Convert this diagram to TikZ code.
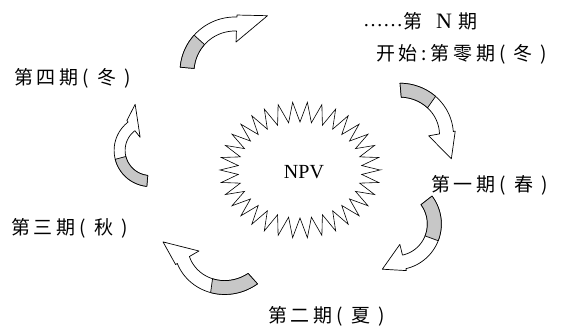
\documentclass[tikz,border=0pt]{standalone}
\usepackage{fontspec}
\setmainfont{Liberation Serif}
\newfontfamily\cjk[LetterSpace=20]{Noto Sans CJK SC}
\definecolor{tailgray}{gray}{0.78}
\tikzset{
  arrowline/.style={draw=black, line width=0.7pt, line join=round},
  lbl/.style={inner sep=0pt, anchor=west, font=\cjk\fontsize{19}{19}\selectfont},
  starline/.style={draw=black, line width=0.6pt, line join=miter},
  latin/.style={inner sep=0pt, font=\rmfamily\fontsize{20}{20}\selectfont},
}
\def\aW{7}\def\aHo{2}\def\aHi{18}
\newcommand\aRR{(\aRa+(\aRb-\aRa)*(\x-\aTa)/(\aTb-\aTa))}
\newcommand\cyclearrow[9]{%
  \def\aCX{#1}\def\aCY{#2}\def\aTa{#3}\def\aTg{#4}\def\aTb{#5}\def\aTt{#6}%
  \def\aRa{#7}\def\aRb{#8}\def\aRt{#9}%
  \draw[arrowline, fill=white]
    plot[domain=\aTa:\aTb, samples=40] ({\aCX+(\aRR+\aW)*cos(\x)}, {\aCY+(\aRR+\aW)*sin(\x)})
    -- ({\aCX+(\aRb+\aW+\aHo)*cos(\aTb)}, {\aCY+(\aRb+\aW+\aHo)*sin(\aTb)})
    -- ({\aCX+\aRt*cos(\aTt)}, {\aCY+\aRt*sin(\aTt)})
    -- ({\aCX+(\aRb-\aHi)*cos(\aTb)}, {\aCY+(\aRb-\aHi)*sin(\aTb)})
    -- plot[domain=\aTb:\aTa, samples=40] ({\aCX+(\aRR-\aW)*cos(\x)}, {\aCY+(\aRR-\aW)*sin(\x)})
    -- cycle;
  \draw[arrowline, fill=tailgray]
    plot[domain=\aTa:\aTg, samples=25] ({\aCX+(\aRR+\aW)*cos(\x)}, {\aCY+(\aRR+\aW)*sin(\x)})
    -- plot[domain=\aTg:\aTa, samples=25] ({\aCX+(\aRR-\aW)*cos(\x)}, {\aCY+(\aRR-\aW)*sin(\x)})
    -- cycle;
}
\begin{document}
\begin{tikzpicture}[x=1pt, y=-1pt]
  \useasboundingbox[fill=white] (0,0) rectangle (563,336);
  % starburst around NPV
  \draw[starline] plot[domain=0:68, samples=69]
    ({300+(71+9*cos(\x*180))*cos(\x*5.294118)}, {170+(58+10*cos(\x*180))*sin(\x*5.294118)}) -- cycle;
  \node[latin] (npv) at (304,172) {NPV};
  % cycle arrows
  \cyclearrow{405}{140}{265}{305}{350}{382}{50}{42}{50}
  \cyclearrow{395}{225}{322}{380}{436}{466}{40}{38}{46}
  \cyclearrow{218}{240}{48}{98}{150}{178}{52}{40}{55}
  \def\aW{5.5}\def\aHi{14}
  \cyclearrow{150}{150}{95}{165}{232}{252}{31}{30}{48}
  \def\aW{7}\def\aHi{18}
  \cyclearrow{235}{72}{185}{222}{272}{300}{48}{48}{65}
  % labels
  \node[lbl] (nth) at (363,21) {{\rmfamily\fontsize{20}{20}\selectfont\raisebox{2pt}{……}}第\hspace{14pt}{\rmfamily\fontsize{22}{22}\selectfont N}\hspace{6pt}期};
  \node[lbl] (start) at (376,54) {开始:第零期( 冬 )};
  \node[lbl] (p1) at (431,185) {第一期( 春 )};
  \node[lbl] (p2) at (268,316) {第二期( 夏 )};
  \node[lbl] (p3) at (11,228) {第三期( 秋 )};
  \node[lbl] (p4) at (14,78) {第四期( 冬 )};
\end{tikzpicture}
\end{document}
